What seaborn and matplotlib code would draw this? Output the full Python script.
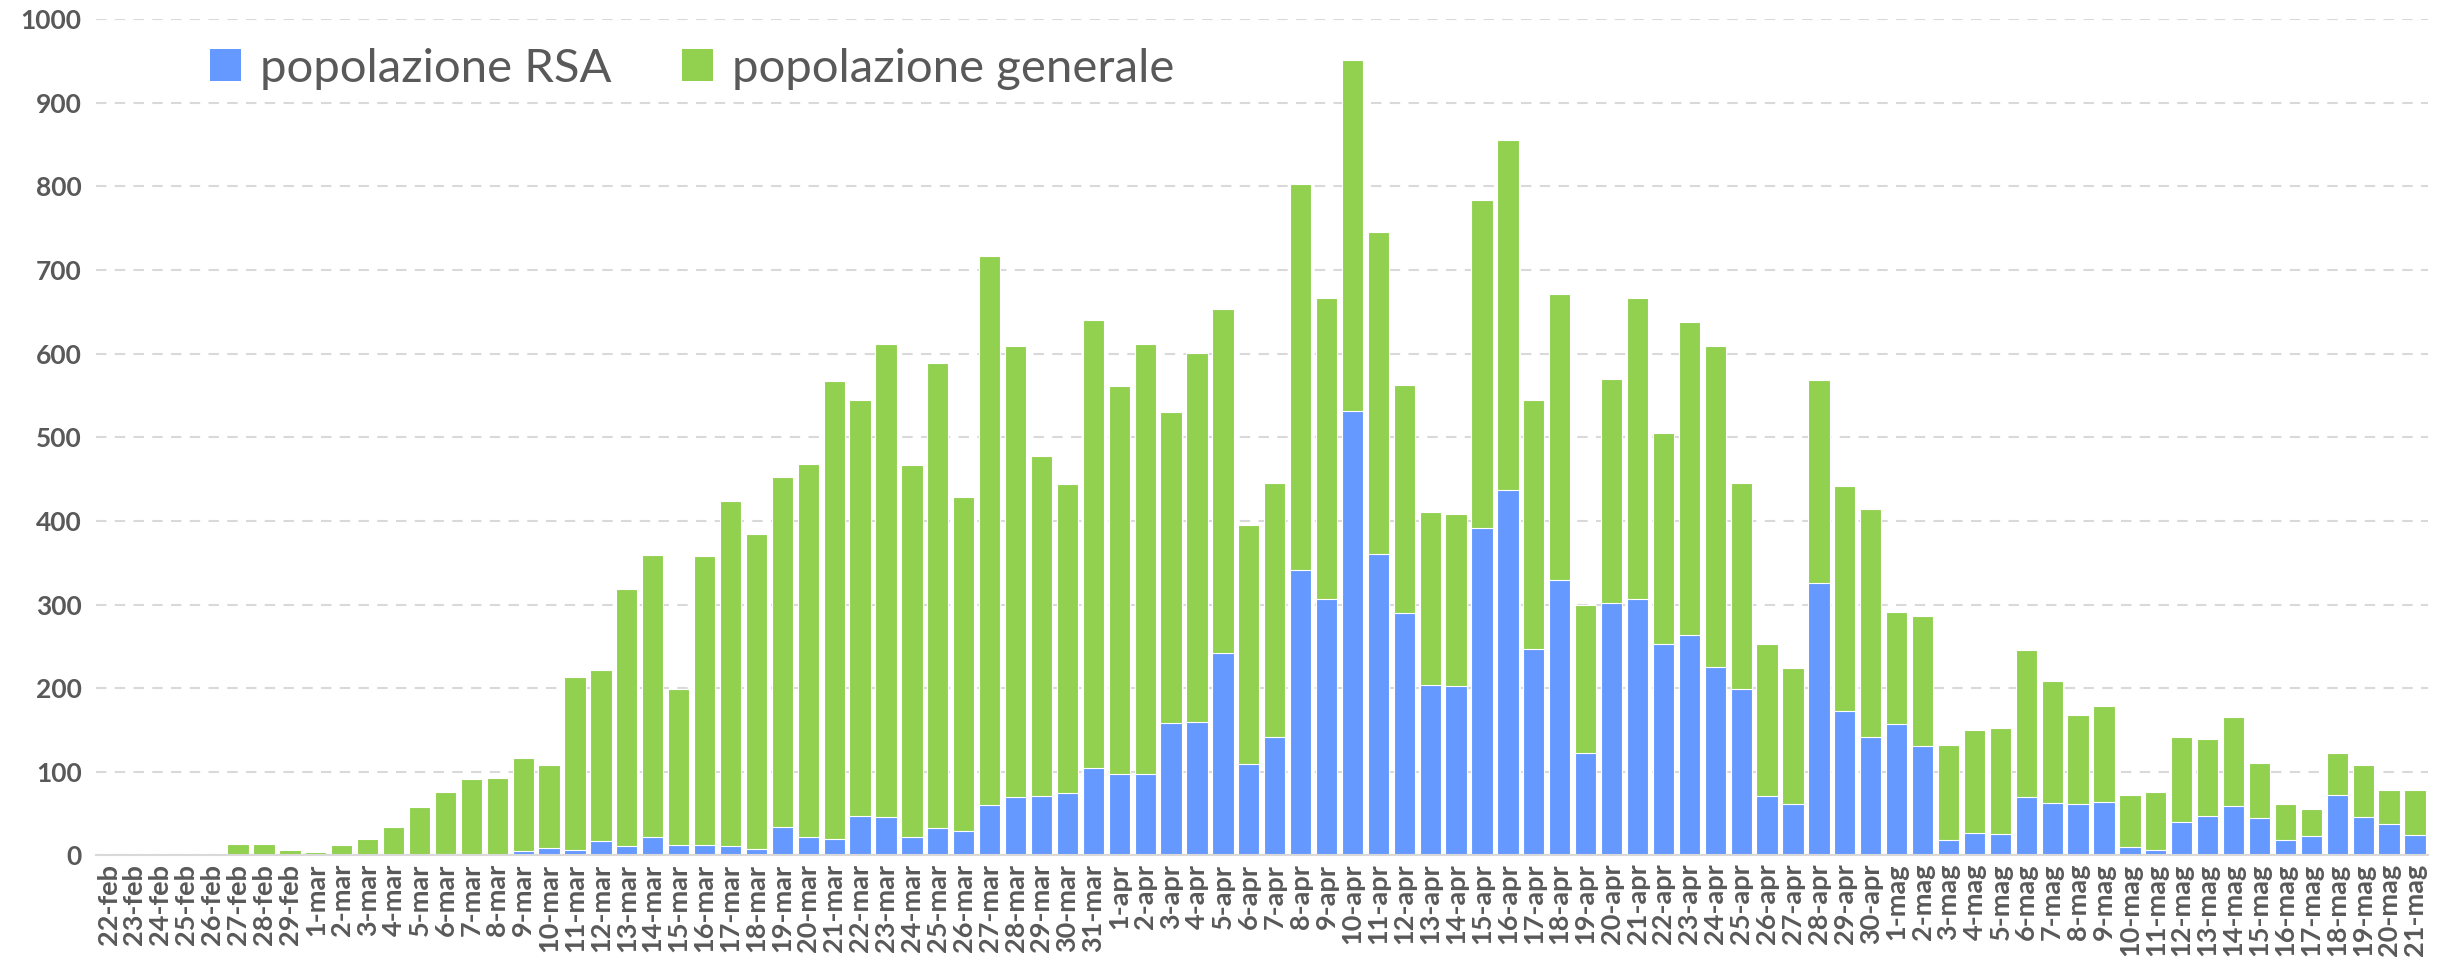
import matplotlib
matplotlib.use("Agg")
import matplotlib.pyplot as plt
import seaborn as sns
import pandas as pd
from matplotlib.patches import Patch

dates = [
    "22-feb", "23-feb", "24-feb", "25-feb", "26-feb", "27-feb", "28-feb", "29-feb",
    "1-mar", "2-mar", "3-mar", "4-mar", "5-mar", "6-mar", "7-mar", "8-mar", "9-mar", "10-mar",
    "11-mar", "12-mar", "13-mar", "14-mar", "15-mar", "16-mar", "17-mar", "18-mar", "19-mar", "20-mar",
    "21-mar", "22-mar", "23-mar", "24-mar", "25-mar", "26-mar", "27-mar", "28-mar", "29-mar", "30-mar", "31-mar",
    "1-apr", "2-apr", "3-apr", "4-apr", "5-apr", "6-apr", "7-apr", "8-apr", "9-apr", "10-apr",
    "11-apr", "12-apr", "13-apr", "14-apr", "15-apr", "16-apr", "17-apr", "18-apr", "19-apr", "20-apr",
    "21-apr", "22-apr", "23-apr", "24-apr", "25-apr", "26-apr", "27-apr", "28-apr", "29-apr", "30-apr",
    "1-mag", "2-mag", "3-mag", "4-mag", "5-mag", "6-mag", "7-mag", "8-mag", "9-mag", "10-mag",
    "11-mag", "12-mag", "13-mag", "14-mag", "15-mag", "16-mag", "17-mag", "18-mag", "19-mag", "20-mag", "21-mag",
]

# total deaths per day (RSA + general population)
totale = [
    1, 2, 1, 1, 2, 13, 14, 6,
    4, 12, 19, 34, 58, 76, 91, 92, 117, 108,
    213, 222, 318, 359, 199, 358, 424, 384, 452, 468,
    567, 545, 612, 467, 589, 429, 717, 609, 478, 444, 640,
    561, 612, 530, 601, 654, 395, 445, 803, 666, 951,
    745, 563, 411, 408, 784, 856, 545, 671, 300, 570,
    667, 505, 638, 609, 445, 253, 224, 569, 442, 414,
    291, 286, 132, 150, 152, 246, 208, 168, 179, 72,
    76, 141, 139, 166, 110, 61, 55, 123, 108, 78, 78,
]

# RSA (nursing homes) population
rsa = [
    0, 0, 0, 0, 0, 0, 1, 0,
    0, 0, 0, 0, 0, 2, 1, 0, 5, 9,
    7, 17, 11, 22, 12, 12, 11, 8, 34, 22,
    20, 47, 46, 22, 33, 29, 60, 70, 71, 75, 105,
    97, 97, 158, 160, 242, 109, 141, 341, 307, 531,
    360, 290, 204, 203, 392, 437, 247, 329, 123, 302,
    307, 253, 263, 225, 199, 71, 62, 326, 173, 141,
    157, 131, 18, 27, 26, 70, 63, 62, 64, 10,
    6, 40, 47, 59, 45, 18, 23, 72, 46, 37, 24,
]

series_labels = ["popolazione RSA", "popolazione generale"]
yticks = [0, 100, 200, 300, 400, 500, 600, 700, 800, 900, 1000]

df = pd.DataFrame({"data": dates, "totale": totale, "rsa": rsa})

BLUE = "#6699FF"
GREEN = "#92D050"
TXT = "#595959"

sns.set_theme(style="white")
plt.rcParams["font.family"] = ["Lato", "DejaVu Sans"]

fig = plt.figure(figsize=(24.5, 9.6), dpi=100)
ax = fig.add_axes([0.039, 0.109, 0.952, 0.871])

ax.yaxis.grid(True, linestyle=(0, (5, 4)), color="#D9D9D9", linewidth=1.5)
ax.set_axisbelow(True)

sns.barplot(data=df, x="data", y="totale", order=dates, color=GREEN, saturation=1,
            width=0.82, edgecolor="white", linewidth=0.8, ax=ax)
sns.barplot(data=df, x="data", y="rsa", order=dates, color=BLUE, saturation=1,
            width=0.82, edgecolor="white", linewidth=0.8, ax=ax)

ax.set_xlim(-0.5, len(dates) - 0.5)
ax.set_ylim(0, 1000)
ax.set_yticks(yticks)
ax.set_xlabel("")
ax.set_ylabel("")

for s in ["top", "right", "left"]:
    ax.spines[s].set_visible(False)
ax.spines["bottom"].set_color("#D9D9D9")
ax.spines["bottom"].set_linewidth(1.5)

ax.tick_params(axis="both", length=0)
ax.tick_params(axis="y", pad=10)
ax.tick_params(axis="x", pad=6)
for lab in ax.get_yticklabels():
    lab.set_fontsize(19)
    lab.set_fontweight("bold")
    lab.set_color(TXT)
for lab in ax.get_xticklabels():
    lab.set_rotation(90)
    lab.set_fontsize(19.5)
    lab.set_fontweight("bold")
    lab.set_color(TXT)

handles = [Patch(facecolor=BLUE, edgecolor="none"), Patch(facecolor=GREEN, edgecolor="none")]
leg = ax.legend(handles, series_labels, loc="center left", bbox_to_anchor=(0.041, 0.941),
                ncol=2, frameon=False, fontsize=34, handlelength=0.65, handleheight=0.65,
                handletextpad=0.4, columnspacing=1.5, borderaxespad=0)
for t in leg.get_texts():
    t.set_color(TXT)

fig.savefig("out.png", dpi=100)
